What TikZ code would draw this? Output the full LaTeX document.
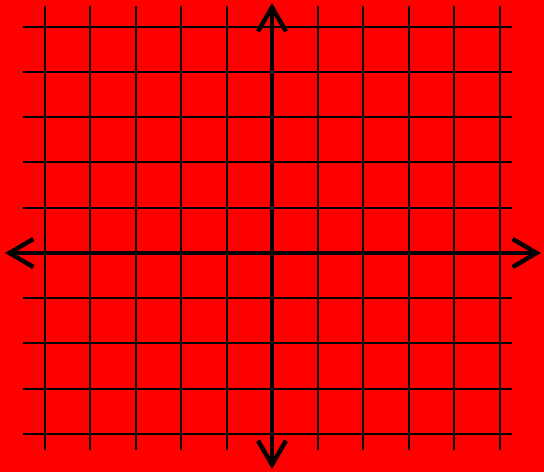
\documentclass[tikz,border=0pt]{standalone}
\usetikzlibrary{arrows.meta}
\definecolor{bgred}{RGB}{255,0,0}
\begin{document}
\begin{tikzpicture}[x=1pt, y=-1pt,
    gridline/.style={black, line width=2.2pt},
    axisline/.style={black, line width=4pt, {Straight Barb[length=24pt, width=28pt, line width=4.4pt]}-{Straight Barb[length=24pt, width=28pt, line width=4.4pt]}}]
    % Background
    \fill[bgred] (0,0) rectangle (544,472);
    \useasboundingbox (0,0) rectangle (544,472);

    % Grid
    \foreach \x in {45,90,136,181,227,272,318,363,409,454,500}
        \draw[gridline] (\x,6) -- (\x,450);
    \foreach \y in {27,72,117,162,208,253,298,343,389,434}
        \draw[gridline] (23,\y) -- (512,\y);

    % Axes
    \coordinate (west) at (5,253);
    \coordinate (east) at (541,253);
    \coordinate (north) at (272,3);
    \coordinate (south) at (272,469);
    \draw[axisline] (west) -- (east);
    \draw[axisline] (south) -- (north);
\end{tikzpicture}
\end{document}
